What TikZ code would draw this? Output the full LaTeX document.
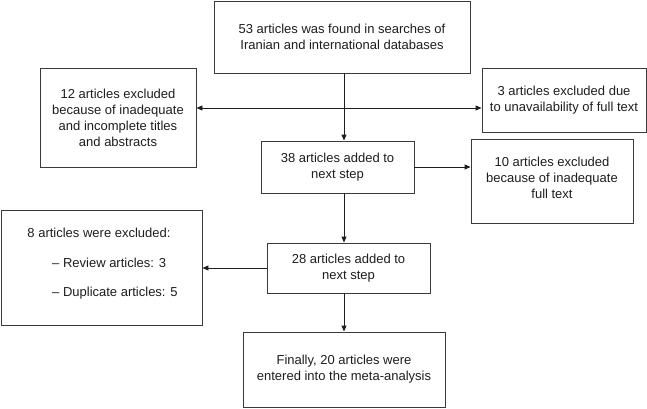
\documentclass[tikz,border=0pt]{standalone}
\usepackage{fontspec}
\setmainfont{Liberation Sans}
\usetikzlibrary{arrows.meta}
\definecolor{edge}{HTML}{3A3A3A}
\definecolor{ink}{HTML}{1E1E1E}
\tikzset{
  box/.style={draw=edge, line width=0.9pt, rectangle, inner sep=0pt, align=center,
    text=ink, font=\fontsize{13}{16}\selectfont},
  txt/.style={inner sep=0pt, text=ink, font=\fontsize{13}{16}\selectfont},
  arr/.style={draw=ink, line width=0.9pt, -{Triangle[length=6pt,width=5pt]}},
  darr/.style={draw=ink, line width=0.9pt, {Triangle[length=6pt,width=5pt]}-{Triangle[length=6pt,width=5pt]}}
}
\begin{document}
\begin{tikzpicture}[x=1pt,y=1pt]
\useasboundingbox (0,0) rectangle (647,-409);
\fill[white] (0,0) rectangle (647,-409);
\node[box, minimum width=256, minimum height=72] (top) at (342,-37)
  {53 articles was found in searches of\\Iranian and international databases};
\node[box, minimum width=156, minimum height=99] (l12) at (118,-117.5)
  {12 articles excluded\\because of inadequate\\and incomplete titles\\and abstracts};
\node[box, minimum width=164, minimum height=64] (r3) at (564,-100)
  {3 articles excluded due\\to unavailability of full text};
\node[box, minimum width=153, minimum height=52] (b38) at (337.5,-167)
  {38 articles added to\\next step};
\node[box, minimum width=162, minimum height=84] (b10) at (552,-181) {};
\node[txt, align=center] (b10t) at (552,-178)
  {10 articles excluded\\because of inadequate\\full text};
\node[box, minimum width=163, minimum height=50] (b28) at (348.5,-268)
  {28 articles added to\\next step};
\node[box, minimum width=202, minimum height=75] (fin) at (344,-369.5)
  {Finally, 20 articles were\\entered into the meta-analysis};
\node[box, minimum width=201, minimum height=115] (b8) at (101.5,-267.5) {};
\node[txt] (b8a) at (99,-233) {8 articles were excluded:};
\node[txt, anchor=west] (b8b) at (52,-263) {– Review articles: 3};
\node[txt, anchor=west] (b8c) at (52,-293) {– Duplicate articles: 5};
\coordinate (j) at (344,-108);
\coordinate (vx) at (344,0);
\draw[arr] (top.south -| vx) -- (b38.north -| vx);
\draw[darr] (j -| l12.east) -- (j -| r3.west);
\draw[arr] (b38.east) -- (b38.east -| b10.west);
\draw[arr] (b38.south -| vx) -- (b28.north -| vx);
\draw[arr] (b28.south -| vx) -- (fin.north -| vx);
\draw[arr] (b28.west) -- (b28.west -| b8.east);
\end{tikzpicture}
\end{document}
